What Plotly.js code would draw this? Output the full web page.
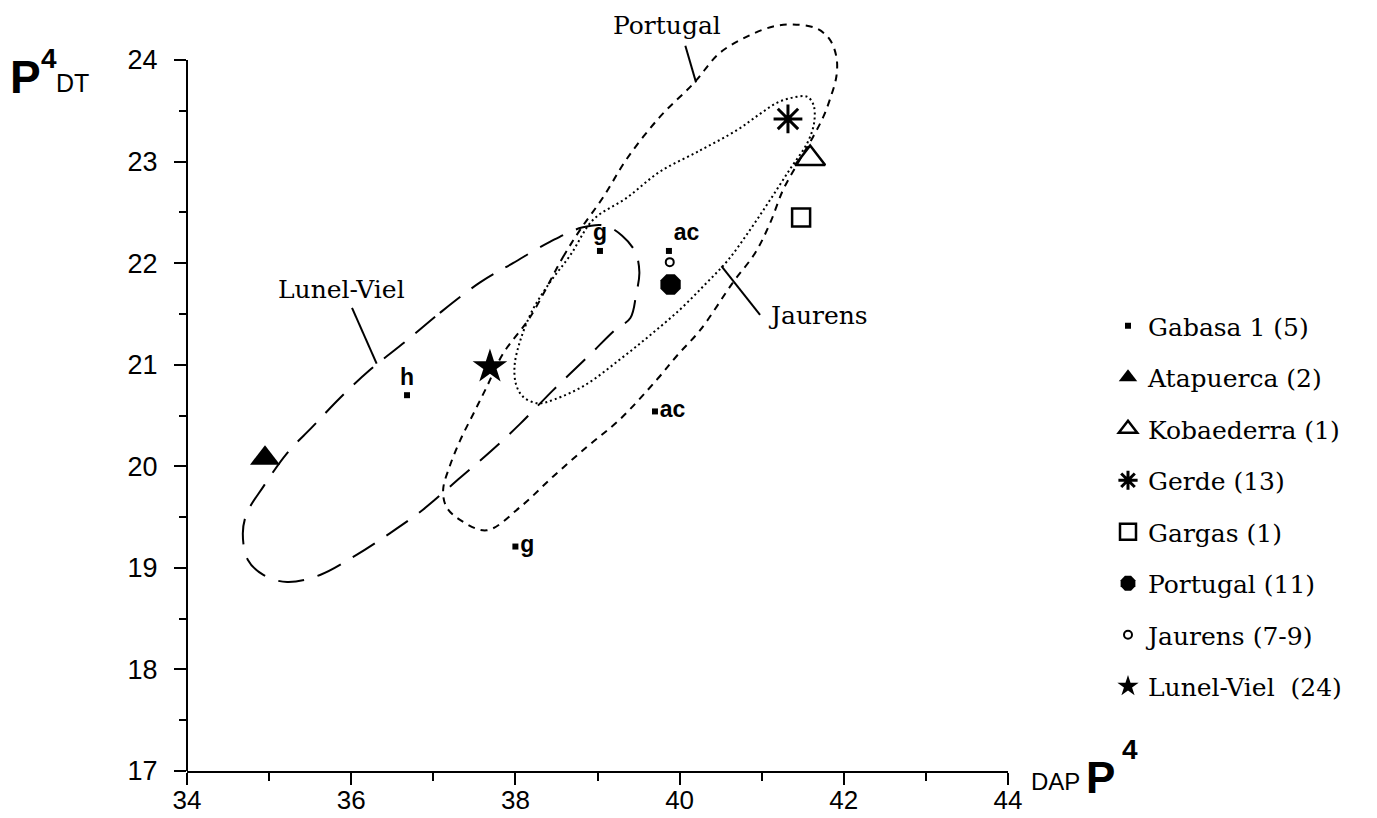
<!DOCTYPE html>
<html>
<head>
<meta charset="utf-8">
<script src="https://cdn.plot.ly/plotly-3.0.1.min.js"></script>
<style>
html,body{margin:0;padding:0;background:#ffffff;}
#chart{width:1377px;height:818px;}
</style>
</head>
<body>
<div id="chart"></div>
<script>
// ---------------- data ----------------
// point series
const gabasaX = [39.03, 39.87, 39.70, 38.00, 36.68];
const gabasaY = [22.12, 22.12, 20.54, 19.21, 20.70];
const gabasaLabels = ['g', 'ac', 'ac', 'g', 'h'];
const gabasaLabelPos = ['top center', 'top right', 'middle right', 'middle right', 'top center'];

const atapuercaX = [34.95];
const atapuercaY = [20.08];
const kobaederraX = [41.59];
const kobaederraY = [23.03];
const gerdeX = [41.32];
const gerdeY = [23.42];
const gargasX = [41.48];
const gargasY = [22.45];
const portugalX = [39.89];
const portugalY = [21.79];
const jaurensX = [39.88];
const jaurensY = [22.01];
const lunelX = [37.69];
const lunelY = [20.98];

// legend names
const seriesNames = ['Gabasa 1 (5)', 'Atapuerca (2)', 'Kobaederra (1)', 'Gerde (13)',
                     'Gargas (1)', 'Portugal (11)', 'Jaurens (7-9)', 'Lunel-Viel  (24)'];

// ellipse outlines
const lunelEllX = [36.68, 37.08, 37.57, 37.97, 38.42, 38.81, 39.09, 39.30, 39.46, 39.51, 39.47, 39.40,
                   39.21, 38.91, 38.46, 38.06, 37.69, 37.33, 36.87, 36.47, 36.05, 35.62, 35.22, 34.93,
                   34.74, 34.68, 34.73, 34.93, 35.22, 35.53, 35.86, 36.23, 36.68];
const lunelEllY = [21.24, 21.51, 21.81, 22.00, 22.21, 22.35, 22.37, 22.27, 22.11, 21.91, 21.69, 21.46,
                   21.34, 21.10, 20.75, 20.42, 20.14, 19.89, 19.57, 19.34, 19.12, 18.93, 18.86, 18.93,
                   19.08, 19.34, 19.54, 19.80, 20.13, 20.39, 20.67, 20.95, 21.24];

const portEllX = [38.18, 38.58, 38.79, 39.07, 39.36, 39.76, 40.17, 40.49, 40.82, 41.14, 41.38, 41.67,
                  41.83, 41.91, 41.91, 41.83, 41.75, 41.63, 41.43, 41.26, 41.10, 40.92, 40.65, 40.25,
                  39.98, 39.72, 39.27, 38.87, 38.46, 38.06, 37.65, 37.33, 37.16, 37.12, 37.20, 37.33,
                  37.49, 37.65, 37.85, 38.18];
const portEllY = [21.47, 22.06, 22.33, 22.65, 23.03, 23.44, 23.77, 24.07, 24.23, 24.33, 24.35, 24.31,
                  24.20, 24.03, 23.84, 23.61, 23.44, 23.25, 22.97, 22.72, 22.39, 22.10, 21.81, 21.34,
                  21.10, 20.85, 20.46, 20.19, 19.90, 19.60, 19.37, 19.47, 19.60, 19.77, 20.00, 20.26,
                  20.52, 20.78, 21.11, 21.47];

const jaurEllX = [39.76, 40.25, 40.70, 40.98, 41.19, 41.38, 41.55, 41.63, 41.64, 41.56, 41.34, 41.10,
                  40.86, 40.59, 40.31, 40.00, 39.64, 39.27, 38.85, 38.48, 38.28, 38.10, 38.01, 37.99,
                  38.06, 38.21, 38.42, 38.67, 38.95, 39.35, 39.76];
const jaurEllY = [22.90, 23.11, 23.31, 23.47, 23.58, 23.63, 23.64, 23.56, 23.39, 23.19, 22.92, 22.62,
                  22.33, 22.03, 21.79, 21.54, 21.29, 21.05, 20.80, 20.66, 20.62, 20.68, 20.80, 20.99,
                  21.24, 21.54, 21.81, 22.08, 22.43, 22.64, 22.90];

// ellipse name labels and their leader lines
const groupLabels = ['Portugal', 'Lunel-Viel', 'Jaurens'];
const groupLabelX = [39.85, 35.88, 41.69];
const groupLabelY = [24.34, 21.74, 21.48];
const leaderX0 = [40.07, 36.01, 40.51];
const leaderY0 = [24.14, 21.56, 21.97];
const leaderX1 = [40.20, 36.31, 40.98];
const leaderY1 = [23.78, 21.01, 21.49];

// axes
const xRange = [34, 44];
const yMin = 17, yMax = 24;
const xTick0 = 34, xDtick = 2, xMinor = 1;
const yTick0 = 17, yDtick = 1, yMinor = 0.5;

// ---------------- layout geometry ----------------
const W = 1377, H = 818;
const mL = 187, mR = W - 1008, mB = H - 771, mT = 14;
const plotW = W - mL - mR, plotH = H - mT - mB;
const pxPerY = (771 - 60) / (yMax - yMin);
const yTop = yMax + (60 - mT) / pxPerY;
const px2x = p => (p - mL) / plotW;
const py2y = p => (H - mB - p) / plotH;

const BLACK = '#000000';
const sans = 'Liberation Sans, Arial, sans-serif';
const serif = 'DejaVu Serif, serif';

function ellipse(x, y, dash, width) {
  return {
    type: 'scatter', mode: 'lines', x: x, y: y, showlegend: false, hoverinfo: 'skip',
    line: {color: BLACK, width: width, dash: dash, shape: 'spline', smoothing: 1}
  };
}
function pts(x, y, name, symbol, size, lineW, group) {
  return {
    type: 'scatter', mode: 'markers', x: x, y: y, name: name, legendgroup: group,
    marker: {symbol: symbol, size: size, color: BLACK, line: {color: BLACK, width: lineW}}
  };
}

const traces = [
  ellipse(lunelEllX, lunelEllY, '26px,14px', 2),
  ellipse(portEllX, portEllY, '7px,6px', 2),
  ellipse(jaurEllX, jaurEllY, '2px,3px', 2),
  {
    type: 'scatter', mode: 'markers+text', x: gabasaX, y: gabasaY, name: seriesNames[0], legendgroup: 'g1',
    text: gabasaLabels, textposition: gabasaLabelPos,
    textfont: {family: sans, size: 23, color: BLACK, weight: 'bold'},
    marker: {symbol: 'square', size: 6, color: BLACK}
  },
  pts(atapuercaX, atapuercaY, seriesNames[1], 'triangle-up', 26, 0, 'g2'),
  pts(kobaederraX, kobaederraY, seriesNames[2], 'triangle-up-open', 26, 2.5, 'g3'),
  pts(gerdeX, gerdeY, seriesNames[3], 'asterisk-open', 24, 3, 'g4'),
  pts(gargasX, gargasY, seriesNames[4], 'square-open', 18, 2.5, 'g5'),
  pts(portugalX, portugalY, seriesNames[5], 'octagon', 22, 0, 'g6'),
  pts(jaurensX, jaurensY, seriesNames[6], 'circle-open', 8, 2, 'g7'),
  pts(lunelX, lunelY, seriesNames[7], 'star', 26, 0, 'g8')
];

const shapes = [
  {type: 'line', xref: 'paper', yref: 'y', x0: 0, x1: 0, y0: yMin, y1: yMax,
   line: {color: BLACK, width: 2}}
];
for (let i = 0; i < groupLabels.length; i++) {
  shapes.push({type: 'line', xref: 'x', yref: 'y', x0: leaderX0[i], y0: leaderY0[i],
               x1: leaderX1[i], y1: leaderY1[i], line: {color: BLACK, width: 2}});
}

const annotations = [];
for (let i = 0; i < groupLabels.length; i++) {
  annotations.push({xref: 'x', yref: 'y', x: groupLabelX[i], y: groupLabelY[i], text: groupLabels[i],
    showarrow: false, xanchor: 'center', yanchor: 'middle',
    font: {family: serif, size: 25, color: BLACK}});
}
// axis titles: P4 DT (y) and DAP P4 (x)
annotations.push(
  {xref: 'paper', yref: 'paper', x: px2x(25), y: py2y(77), text: '<b>P</b>', showarrow: false,
   xanchor: 'center', yanchor: 'middle', font: {family: sans, size: 46, color: BLACK}},
  {xref: 'paper', yref: 'paper', x: px2x(49), y: py2y(58), text: '<b>4</b>', showarrow: false,
   xanchor: 'center', yanchor: 'middle', font: {family: sans, size: 28, color: BLACK}},
  {xref: 'paper', yref: 'paper', x: px2x(72.5), y: py2y(83), text: 'DT', showarrow: false,
   xanchor: 'center', yanchor: 'middle', font: {family: sans, size: 25, color: BLACK}},
  {xref: 'paper', yref: 'paper', x: px2x(1082), y: py2y(781), text: 'DAP', showarrow: false,
   xanchor: 'right', yanchor: 'middle', font: {family: sans, size: 24, color: BLACK}},
  {xref: 'paper', yref: 'paper', x: px2x(1084), y: py2y(777), text: '<b>P</b>', showarrow: false,
   xanchor: 'left', yanchor: 'middle', font: {family: sans, size: 44, color: BLACK}},
  {xref: 'paper', yref: 'paper', x: px2x(1130), y: py2y(749), text: '<b>4</b>', showarrow: false,
   xanchor: 'center', yanchor: 'middle', font: {family: sans, size: 28, color: BLACK}}
);

const layout = {
  width: W, height: H,
  margin: {l: mL, r: mR, t: mT, b: mB, autoexpand: false},
  paper_bgcolor: '#ffffff', plot_bgcolor: '#ffffff',
  showlegend: true,
  legend: {
    x: px2x(1108), xanchor: 'left', y: py2y(303), yanchor: 'top',
    font: {family: serif, size: 25, color: BLACK},
    tracegroupgap: 16, bgcolor: 'rgba(0,0,0,0)', borderwidth: 0
  },
  xaxis: {
    range: xRange, tick0: xTick0, dtick: xDtick, ticks: 'outside', ticklen: 12, tickwidth: 2,
    tickcolor: BLACK, showline: true, linecolor: BLACK, linewidth: 2, showgrid: false, zeroline: false,
    tickfont: {family: sans, size: 26, color: BLACK}, ticklabelstandoff: -7,
    minor: {dtick: xMinor, ticks: 'outside', ticklen: 8, tickwidth: 2, tickcolor: BLACK, showgrid: false}
  },
  yaxis: {
    range: [yMin, yTop], tick0: yTick0, dtick: yDtick, ticks: 'outside', ticklen: 12, tickwidth: 2,
    tickcolor: BLACK, showline: false, showgrid: false, zeroline: false,
    tickfont: {family: sans, size: 27, color: BLACK}, ticklabelstandoff: 11,
    minor: {dtick: yMinor, ticks: 'outside', ticklen: 7, tickwidth: 2, tickcolor: BLACK, showgrid: false}
  },
  shapes: shapes,
  annotations: annotations,
  hovermode: false
};

Plotly.newPlot('chart', traces, layout, {staticPlot: true, displayModeBar: false});
</script>
</body>
</html>
